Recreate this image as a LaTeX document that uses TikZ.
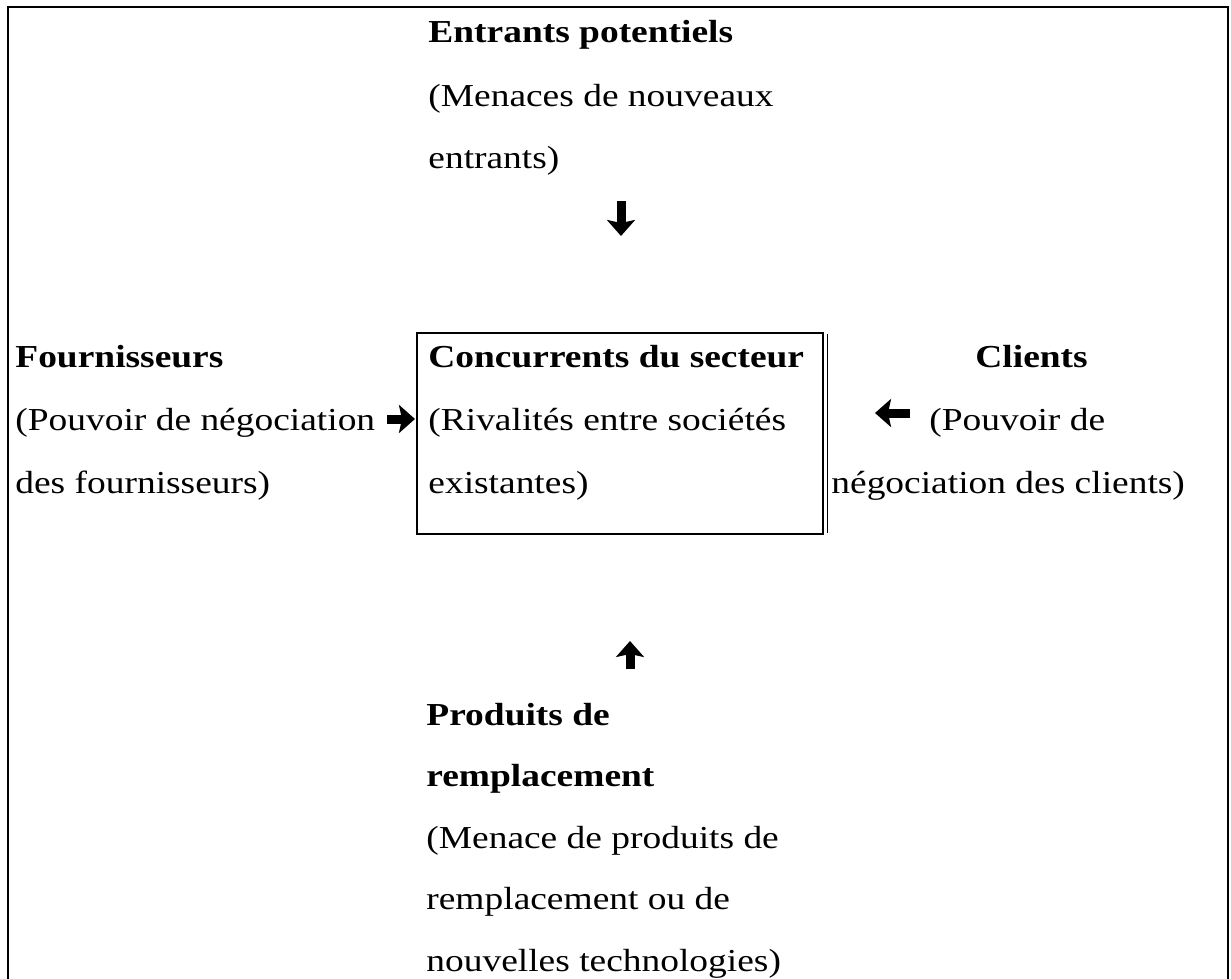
\documentclass[tikz,border=0pt]{standalone}
\usepackage{fontspec}
\setmainfont[FakeStretch=1.17]{Liberation Serif}
\usetikzlibrary{arrows.meta}
\begin{document}
\begin{tikzpicture}[x=0.5pt, y=-0.5pt,
    txt/.style={anchor=base west, inner sep=0pt, font=\fontsize{16}{31.5}\selectfont},
    fleche/.style={line width=4.5pt, -{Stealth[width=14pt, length=8pt, inset=1.5pt]}}]
\useasboundingbox (0,0) rectangle (1231,979);
% cadre ouvert en bas
\draw[line width=1pt] (8,979) |- (1228,7) -- (1228,979);
% case centrale
\node[draw, line width=0.8pt, anchor=north west, inner sep=0pt,
      minimum width=203pt, minimum height=100.5pt] (cadre) at (416,332) {};
\draw[line width=0.8pt] ([xshift=2pt,yshift=-1pt]cadre.north east) -- ([xshift=2pt,yshift=1pt]cadre.south east);
% entrants potentiels
\foreach \t [count=\i from 0] in {{\textbf{Entrants potentiels}}, {(Menaces de nouveaux}, {entrants)}}
{
    \node[txt] (ent\i) at (428,{43+63*\i}) {\t};
}
% fournisseurs
\foreach \t [count=\i from 0] in {{\textbf{Fournisseurs}}, {(Pouvoir de négociation}, {des fournisseurs)}}
{
    \node[txt] (four\i) at (15,{367+63*\i}) {\t};
}
% concurrents du secteur
\foreach \t [count=\i from 0] in {{\textbf{Concurrents du secteur}}, {(Rivalités entre sociétés}, {existantes)}}
{
    \node[txt] (conc\i) at (428,{367+63*\i}) {\t};
}
% clients
\node[txt] (cli0) at (975,367) {\textbf{Clients}};
\node[txt] (cli1) at (929,430) {(Pouvoir de};
\node[txt] (cli2) at (831,493) {négociation des clients)};
% produits de remplacement
\foreach \t [count=\i from 0] in {{\textbf{Produits de}}, {\textbf{remplacement}}, {(Menace de produits de}, {remplacement ou de}, {nouvelles technologies)}}
{
    \node[txt] (prod\i) at (426,{725+61.5*\i}) {\t};
}
% fleches
\coordinate (h1) at (621,201);
\coordinate (h2) at (621,236);
\coordinate (g1) at (387,419);
\coordinate (g2) at (415,419);
\coordinate (d1) at (910,413);
\coordinate (d2) at (875,413);
\coordinate (b1) at (630,669);
\coordinate (b2) at (630,641);
\draw[fleche] (h1) -- (h2);
\draw[fleche] (g1) -- (g2);
\draw[fleche] (d1) -- (d2);
\draw[fleche] (b1) -- (b2);
\end{tikzpicture}
\end{document}
